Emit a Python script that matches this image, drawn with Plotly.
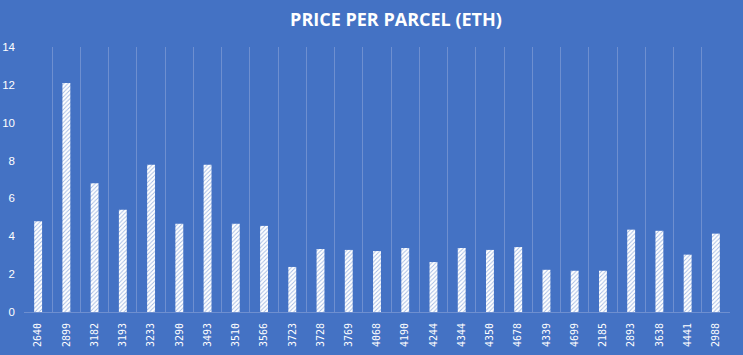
import plotly.graph_objects as go

parcels = ["2640", "2899", "3182", "3193", "3233", "3290", "3493", "3510", "3566",
           "3723", "3728", "3769", "4068", "4190", "4244", "4344", "4350", "4678",
           "4339", "4699", "2185", "2893", "3638", "4441", "2988"]
price_eth = [4.8, 12.1, 6.8, 5.4, 7.78, 4.66, 7.78, 4.66, 4.55,
             2.38, 3.33, 3.28, 3.22, 3.38, 2.64, 3.38, 3.28, 3.43,
             2.23, 2.18, 2.18, 4.35, 4.29, 3.03, 4.14]
y_ticks = [0, 2, 4, 6, 8, 10, 12, 14]

BG = "#4472C4"
GRID = "#6E8FD0"

fig = go.Figure(go.Bar(
    x=parcels, y=price_eth,
    marker=dict(color="white", line=dict(width=0),
                pattern=dict(shape="/", fgcolor=BG, size=3, solidity=0.3)),
))

fig.update_layout(
    width=743, height=355,
    paper_bgcolor=BG, plot_bgcolor=BG,
    margin=dict(l=24, r=13, t=47, b=43),
    bargap=0.72,
    showlegend=False,
    title=dict(text="<b>PRICE PER PARCEL (ETH)</b>", x=0.533, xanchor="center",
               y=0.944, yanchor="middle",
               font=dict(family="Open Sans", size=18, color="white")),
    font=dict(color="white"),
)
fig.update_xaxes(type="category", tickson="boundaries", showgrid=True, gridcolor=GRID,
                 gridwidth=1, showline=True, linecolor=GRID, ticks="", automargin=False,
                 tickangle=-90, ticklabelstandoff=6,
                 tickfont=dict(family="DejaVu Sans Mono", size=10, color="white"),
                 zeroline=False)
fig.update_yaxes(range=[0, 14], tickvals=y_ticks, showgrid=False, zeroline=False,
                 showline=False, ticks="", automargin=False, ticklabelstandoff=8,
                 tickfont=dict(family="Liberation Sans", size=11.5, color="white"))

fig.write_html("out.html", config={"displayModeBar": False},
               post_script="document.body.style.margin='0';document.body.style.overflow='hidden';")
